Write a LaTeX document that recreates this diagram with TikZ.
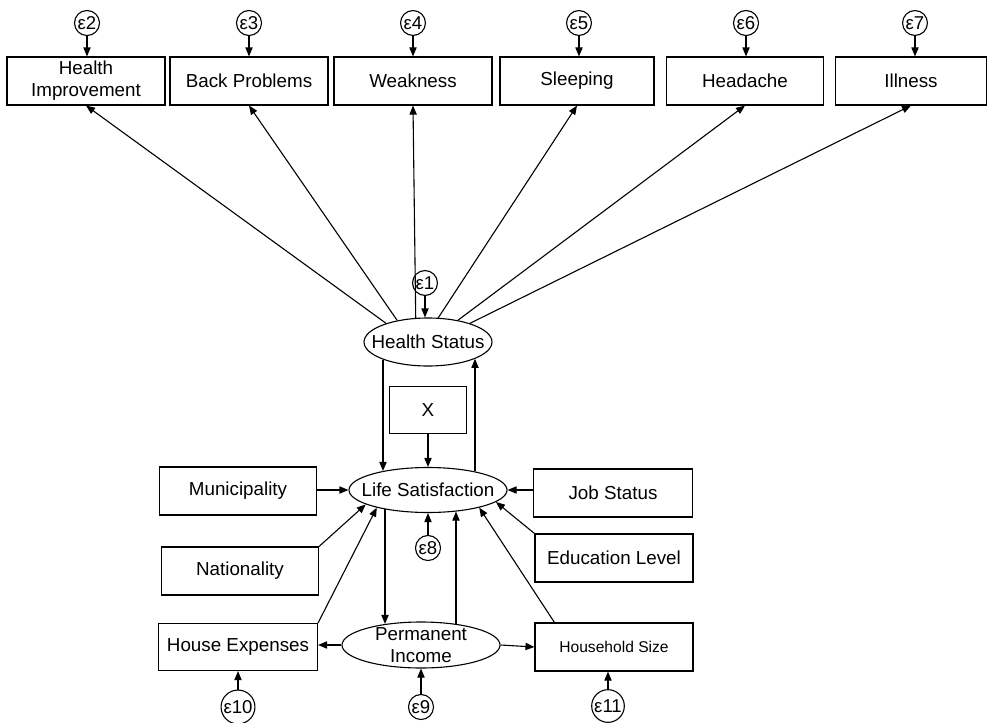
\documentclass[tikz,border=0pt]{standalone}
\usepackage{fontspec}
\setmainfont{Liberation Sans}
\usetikzlibrary{shapes.geometric,arrows.meta}

\begin{document}
\begin{tikzpicture}[>={Triangle[length=4.5pt,width=3.6pt]}, font=\fontsize{9.4}{11}\selectfont, x=0.5pt, y=-0.5pt, line width=0.55pt,
  obs/.style={draw, rectangle, align=center, minimum height=24pt, inner sep=0.5pt},
  lat/.style={draw, ellipse, inner sep=0pt},
  err/.style={draw, circle, inner sep=0.4pt, minimum size=12pt, font=\fontsize{9.3}{10}\selectfont}]
  \useasboundingbox (0,0) rectangle (991,723);
  % indicators of health status
  \foreach \id/\x/\w/\ex/\k/\txt in {hi/86/158/87/2/{Health\\Improvement}, bp/249/158/249/3/Back Problems, wk/413/158/413/4/Weakness, sl/577/154/579/5/Sleeping, hd/745/157/746/6/Headache, il/911/151/915/7/Illness} {
    \node[obs, minimum width=\w*0.5pt] (\id) at (\x,81) {\txt};
    \node[err] (e\k) at (\ex,23) {ε\k};
    \draw[->] (e\k) -- (e\k |- \id.north);
  }
  % latent variables
  \node[lat, minimum width=64pt, minimum height=24pt, label={center:Health Status}] (hs) at (428,342) {};
  \node[err] (e1) at (425,283) {ε1};
  \node[obs, minimum width=38.5pt, minimum height=23.5pt] (xb) at (428,410) {X};
  \node[lat, minimum width=79pt, minimum height=22.5pt, label={center:Life Satisfaction}] (ls) at (428,490) {};
  \node[err] (e8) at (428,548) {ε8};
  \node[lat, minimum width=79pt, minimum height=23pt, label={[align=center]center:{Permanent\\Income}}] (pi) at (421,645) {};
  \node[err] (e9) at (421,707) {ε9};
  % observed covariates
  \node[obs, minimum width=78.5pt] (mu) at (238,491) {Municipality};
  \node[obs, minimum width=78.5pt] (na) at (240,571) {Nationality};
  \node[obs, minimum width=79.5pt, minimum height=23.5pt] (he) at (238,647) {House Expenses};
  \node[err] (e10) at (238,707) {ε10};
  \node[obs, minimum width=79.5pt] (js) at (613,493) {Job Status};
  \node[obs, minimum width=79pt] (el) at (614,558) {Education Level};
  \node[obs, minimum width=79pt, font=\fontsize{7.8}{9}\selectfont] (hh) at (614,647) {Household Size};
  \node[err] (e11) at (608,706) {ε11};
  % loadings
  \foreach \a/\id in {156/hi, 145/bp, 117/wk, 67/sl, 36/hd, 24/il}
    \draw[->] (hs.\a) -- (\id.south);
  \draw[->] (e1) -- (e1 |- hs.north);
  % structural paths
  \draw[->] ([shift={(-45,-7)}]hs.south) -- ([shift={(-45,4)}]ls.north);
  \draw[->] ([shift={(47,4.4)}]ls.north) -- ([shift={(47,-7.7)}]hs.south);
  \draw[->] (xb) -- (ls);
  \draw[->] ([shift={(-43,-3.6)}]ls.south) -- ([shift={(-36,2.5)}]pi.north);
  \draw[->] ([shift={(35,2.4)}]pi.north) -- ([shift={(28,-1.5)}]ls.south);
  \draw[->] (mu.east |- ls.west) -- (ls.west);
  \draw[->] (js.west |- ls.east) -- (ls.east);
  \draw[->] (na.north east) -- (ls.193);
  \draw[->] (he.north east) -- (ls.199);
  \draw[->] (el.north west) -- (ls.350);
  \draw[->] ([xshift=10pt]hh.north west) -- (ls.341);
  \draw[->] (e8) -- (ls);
  \draw[->] (pi.west) -- (pi.west -| he.east);
  \draw[->] (pi.east) -- (hh.west);
  \draw[->] (e9) -- (pi);
  \draw[->] (e10) -- (he);
  \draw[->] (e11) -- (e11 |- hh.south);
\end{tikzpicture}
\end{document}
